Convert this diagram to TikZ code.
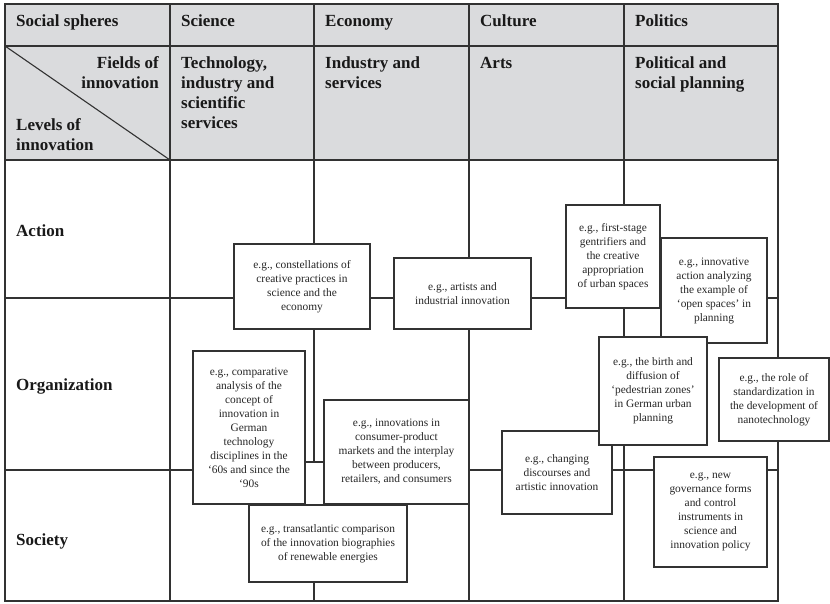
\documentclass[tikz,border=0pt]{standalone}
\usepackage{fontspec}
\setmainfont{Liberation Serif}
\definecolor{headfill}{RGB}{218,219,221}
\definecolor{rulecol}{RGB}{50,50,50}
\begin{document}
\begin{tikzpicture}[x=1pt,y=-1pt,
  rule/.style={line width=1.1pt, draw=rulecol},
  hdr/.style={font=\fontsize{17}{20}\selectfont\bfseries, inner sep=0pt, text=black!90},
  example/.style={draw=rulecol, line width=1.1pt, fill=white, inner sep=0pt,
    align=center, text=black!85, font=\fontsize{11.4}{14}\selectfont}]
\useasboundingbox (0,0) rectangle (830,604);

% header band
\fill[headfill] (5,4) rectangle (778,160);
\draw[rule] (5,4) rectangle (778,601);
\draw[rule] (5,46) -- (778,46);
\draw[rule] (5,160) -- (778,160);
\draw[rule] (5,46) -- (170,160);

% column rules
\draw[rule] (170,4) -- (170,601);
\draw[rule] (469,4) -- (469,601);
\draw[rule] (624,4) -- (624,601);
\coordinate (junction) at (314,462);
\draw[rule] (314,4) -- (junction);
\draw[rule] (314,582) -- (314,601);

% row rules
\draw[rule] (5,298) -- (778,298);

% header texts (multi-line nodes are anchored at the baseline of their last line)
\node[hdr, anchor=base west] (hsoc) at (16,26.5) {Social spheres};
\node[hdr, anchor=base west] (hsci) at (181,26.5) {Science};
\node[hdr, anchor=base west] (heco) at (325,26.5) {Economy};
\node[hdr, anchor=base west] (hcul) at (480,26.5) {Culture};
\node[hdr, anchor=base west] (hpol) at (635,26.5) {Politics};
\node[hdr, anchor=base east, align=right] (hfields) at (159,88.5) {Fields of\\innovation};
\node[hdr, anchor=base west, align=left] (hlevels) at (16,150.5) {Levels of\\innovation};
\node[hdr, anchor=base west, align=left] (ftech) at (181,128.5) {Technology,\\industry and\\scientific\\services};
\node[hdr, anchor=base west, align=left] (find) at (325,88.5) {Industry and\\services};
\node[hdr, anchor=base west] (farts) at (480,68.5) {Arts};
\node[hdr, anchor=base west, align=left] (fpol) at (635,88.5) {Political and\\social planning};

% level labels
\node[hdr, anchor=base west] (lact) at (16,236.5) {Action};
\node[hdr, anchor=base west] (lorg) at (16,390.5) {Organization};
\node[hdr, anchor=base west] (lsoc) at (16,545) {Society};

% example boxes
\node[example, minimum width=136pt, minimum height=85pt] (b1) at (302,286.5)
  {e.g., constellations of\\creative practices in\\science and the\\economy};
\node[example, minimum width=137pt, minimum height=71pt] (b2) at (462.5,293.5)
  {e.g., artists and\\industrial innovation};
\node[example, minimum width=94pt, minimum height=103pt] (b3) at (613,256.5)
  {e.g., first-stage\\gentrifiers and\\the creative\\appropriation\\of urban spaces};
\node[example, minimum width=106pt, minimum height=105pt] (b4) at (714,290.5)
  {e.g., innovative\\action analyzing\\the example of\\`open spaces' in\\planning};
\node[example, minimum width=110pt, minimum height=83pt] (b7) at (557,472.5)
  {e.g., changing\\discourses and\\artistic innovation};
\node[example, minimum width=110pt, minimum height=83pt] (b6) at (774,399.5)
  {e.g., the role of\\standardization in\\the development of\\nanotechnology};
\node[example, minimum width=113pt, minimum height=110pt] (b8) at (710.5,512)
  {e.g., new\\governance forms\\and control\\instruments in\\science and\\innovation policy};
\node[example, minimum width=112pt, minimum height=153pt] (b9) at (249,427.5)
  {e.g., comparative\\analysis of the\\concept of\\innovation in\\German\\technology\\disciplines in the\\`60s and since the\\`90s};
\node[example, minimum width=145pt, minimum height=104pt] (b10) at (396.5,452)
  {e.g., innovations in\\consumer-product\\markets and the interplay\\between producers,\\retailers, and consumers};
\node[example, minimum width=158pt, minimum height=77pt] (b11) at (328,543.5)
  {e.g., transatlantic comparison\\of the innovation biographies\\of renewable energies};
\node[example, minimum width=108pt, minimum height=108pt] (b5) at (653,391)
  {e.g., the birth and\\diffusion of\\`pedestrian zones'\\in German urban\\planning};

% organization/society rule, broken around the boxes
\draw[rule] (5,470) -- (b9.west |- 0,470);
\draw[rule] (b10.east |- 0,470) -- (b7.west |- 0,470);
\draw[rule] (b7.east |- 0,470) -- (b8.west |- 0,470);
\draw[rule] (b8.east |- 0,470) -- (778,470);
\draw[rule] (b9.east |- junction) -- (b10.west |- junction);
\end{tikzpicture}
\end{document}
